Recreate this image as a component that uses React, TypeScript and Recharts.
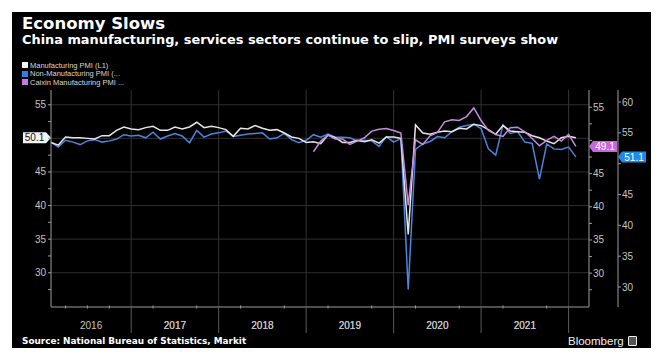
import { Line, LineChart, ReferenceLine, XAxis, YAxis } from 'recharts'

// monthly, Jan 2016 .. Jan 2022
const manufacturingPmi = [
  49.4, 49.0, 50.2, 50.1, 50.1, 50.0, 49.9, 50.4, 50.4, 51.2, 51.7, 51.4,
  51.3, 51.6, 51.8, 51.2, 51.2, 51.7, 51.4, 51.7, 52.4, 51.6, 51.8, 51.6,
  51.3, 50.3, 51.5, 51.4, 51.9, 51.5, 51.2, 51.3, 50.8, 50.2, 50.0, 49.4,
  49.5, 49.2, 50.5, 50.1, 49.4, 49.4, 49.7, 49.5, 49.8, 49.3, 50.2, 50.2,
  50.0, 35.7, 52.0, 50.8, 50.6, 50.9, 51.1, 51.0, 51.5, 51.4, 52.1, 51.9,
  51.3, 50.6, 51.9, 51.1, 51.0, 50.9, 50.4, 50.1, 49.6, 49.2, 50.1, 50.3,
  50.1,
]

const nonManufacturingPmi = [
  53.5, 52.7, 53.8, 53.5, 53.1, 53.7, 53.9, 53.5, 53.7, 54.0, 54.7, 54.5,
  54.6, 54.2, 55.1, 54.0, 54.5, 54.9, 54.5, 53.4, 55.4, 54.3, 54.8, 55.0,
  55.3, 54.4, 54.6, 54.8, 54.9, 55.0, 54.0, 54.2, 54.9, 53.9, 53.4, 53.8,
  54.7, 54.3, 54.8, 54.3, 54.3, 54.2, 53.7, 53.8, 53.7, 52.8, 54.4, 53.5,
  54.1, 29.6, 52.3, 53.2, 53.6, 54.4, 54.2, 55.2, 55.9, 56.2, 56.4, 55.7,
  52.4, 51.4, 56.3, 54.9, 55.2, 53.5, 53.3, 47.5, 53.2, 52.4, 52.3, 52.7,
  51.1,
]

// Caixin series is only drawn from Jan 2019
const caixinStartIndex = 36
const caixinPmi = [
  48.3, 49.9, 50.8, 50.2, 50.2, 49.4, 49.9, 50.4, 51.4, 51.7, 51.8, 51.5,
  51.1, 40.3, 50.1, 49.4, 50.7, 51.2, 52.8, 53.1, 53.0, 53.6, 54.9, 53.0,
  51.5, 50.9, 50.6, 51.9, 52.0, 51.3, 50.3, 49.2, 50.0, 50.6, 49.9, 50.9,
  49.1,
]

const yearLabels = ['2016', '2017', '2018', '2019', '2020', '2021']
const leftTicks = [27.5, 30, 32.5, 35, 37.5, 40, 42.5, 45, 47.5, 50, 52.5, 55]
const caixinTicks = [27.5, 30, 32.5, 35, 37.5, 40, 42.5, 45, 47.5, 50, 52.5, 55]
const nonMfgTicks = [30, 35, 40, 45, 50, 55, 60]

const data = manufacturingPmi.map((mfg, i) => ({
  i,
  mfg,
  nonMfg: nonManufacturingPmi[i],
  caixin: i >= caixinStartIndex ? caixinPmi[i - caixinStartIndex] : null,
}))

const lastIndex = data.length - 1
const yearEnds = yearLabels.map((_, k) => k * 12 + 11)
const yearCenters = yearLabels.map((_, k) => (k === 0 ? 5.5 : k * 12 + 5))
const quarterTicks = data.filter((d) => d.i % 3 === 2).map((d) => d.i)
const xTicks = [...quarterTicks, ...yearCenters]

const tickFont = '"Liberation Sans", Arial, sans-serif'
const axisColor = '#9c9c9c'
const tickColor = '#c4c4c4'

function XTick(props: any) {
  const { x, y, payload } = props
  const v = payload.value
  const yi = yearCenters.indexOf(v)
  if (yi >= 0) {
    return (
      <text x={x} y={y + 22} textAnchor="middle" fill={tickColor} fontSize={10} fontFamily={tickFont}>
        {yearLabels[yi]}
      </text>
    )
  }
  if (yearEnds.includes(v)) {
    return <line x1={x} x2={x} y1={y} y2={y + 26} stroke="#5a5a5a" strokeWidth={1} />
  }
  return <line x1={x} x2={x} y1={y - 1.5} y2={y + 1.5} stroke={axisColor} strokeWidth={1} />
}

function YTick(props: any) {
  const { x, y, payload, textAnchor, hide } = props
  const v = payload.value
  if (v % 5 !== 0 || (hide && hide.includes(v))) return <g />
  return (
    <text x={x} y={y + 3.5} textAnchor={textAnchor} fill={tickColor} fontSize={10} fontFamily={tickFont}>
      {v}
    </text>
  )
}

function ValueTag(props: any) {
  const { viewBox, side, text, fill, color, shift = 0 } = props
  const h = 11
  const cy = viewBox.y
  if (side === 'left') {
    const tip = viewBox.x
    const pts = `${tip - 28},${cy - h / 2} ${tip - 5},${cy - h / 2} ${tip},${cy} ${tip - 5},${cy + h / 2} ${tip - 28},${cy + h / 2}`
    return (
      <g>
        <polygon points={pts} fill={fill} />
        <text x={tip - 16.5} y={cy + 3.6} textAnchor="middle" fill={color} fontSize={10} fontFamily={tickFont}>
          {text}
        </text>
      </g>
    )
  }
  const tip = viewBox.x + viewBox.width + shift
  const pts = `${tip},${cy} ${tip + 4},${cy - h / 2} ${tip + 28},${cy - h / 2} ${tip + 28},${cy + h / 2} ${tip + 4},${cy + h / 2}`
  return (
    <g>
      <polygon points={pts} fill={fill} />
      <text x={tip + 16} y={cy + 3.6} textAnchor="middle" fill={color} fontSize={10} fontFamily={tickFont}>
        {text}
      </text>
    </g>
  )
}

const legendItems = [
  { label: 'Manufacturing PMI (L1)', color: '#f2f2f2' },
  { label: 'Non-Manufacturing PMI (...', color: '#2f7fe0' },
  { label: 'Caixin Manufacturing PMI ...', color: '#c77ae0' },
]

export default function App() {
  return (
    <div style={{ position: 'relative', width: 659, height: 356, margin: -8, background: '#fff', overflow: 'hidden' }}>
      <div
        style={{
          position: 'absolute',
          left: 4,
          top: 4,
          width: 652,
          height: 400,
          border: '2px solid #2f5d9e',
          boxSizing: 'border-box',
        }}
      />
      <div style={{ position: 'absolute', left: 12, top: 12, width: 639, height: 344, background: '#000' }} />

      <div
        style={{
          position: 'absolute',
          left: 22,
          top: 15,
          color: '#fff',
          fontFamily: '"DejaVu Sans", sans-serif',
          fontWeight: 'bold',
          fontSize: 16.5,
          lineHeight: '17px',
          whiteSpace: 'nowrap',
        }}
      >
        Economy Slows
      </div>
      <div
        style={{
          position: 'absolute',
          left: 22,
          top: 33,
          color: '#fff',
          fontFamily: '"DejaVu Sans", sans-serif',
          fontWeight: 'bold',
          fontSize: 12.9,
          lineHeight: '13px',
          whiteSpace: 'nowrap',
        }}
      >
        China manufacturing, services sectors continue to slip, PMI surveys show
      </div>

      <div style={{ position: 'absolute', left: 22, top: 61 }}>
        {legendItems.map((item) => (
          <div
            key={item.label}
            style={{
              display: 'flex',
              alignItems: 'center',
              height: 8.5,
              color: '#d8d8d8',
              fontFamily: tickFont,
              fontSize: 7.5,
              whiteSpace: 'nowrap',
            }}
          >
            <span style={{ display: 'inline-block', width: 6, height: 6, background: item.color, marginRight: 2 }} />
            {item.label}
          </div>
        ))}
      </div>

      <div style={{ position: 'absolute', left: 0, top: 0 }}>
        <LineChart width={659} height={356} data={data} margin={{ top: 90, right: 0, bottom: 29, left: 0 }}>
          <XAxis
            dataKey="i"
            type="number"
            domain={[0, 73.8]}
            ticks={xTicks}
            interval={0}
            height={20}
            stroke={axisColor}
            tickLine={false}
            tickSize={0}
            tickMargin={0}
            tick={<XTick />}
            allowDataOverflow
          />
          <YAxis
            yAxisId="left"
            orientation="left"
            type="number"
            width={51}
            domain={[24.9, 57.2]}
            ticks={leftTicks}
            interval={0}
            allowDataOverflow
            stroke={axisColor}
            tickSize={3}
            tickMargin={2}
            tick={<YTick hide={[50]} />}
          />
          <YAxis
            yAxisId="caixin"
            orientation="right"
            type="number"
            width={29}
            domain={[24.9, 57.6]}
            ticks={caixinTicks}
            interval={0}
            allowDataOverflow
            stroke={axisColor}
            tickSize={3}
            tickMargin={1}
            tick={<YTick hide={[50]} />}
          />
          <YAxis
            yAxisId="nonmfg"
            orientation="right"
            type="number"
            width={41}
            domain={[26.76, 61.95]}
            ticks={nonMfgTicks}
            interval={0}
            allowDataOverflow
            stroke={axisColor}
            tickSize={3}
            tickMargin={1}
            tick={<YTick hide={[50]} />}
          />

          {leftTicks
            .filter((t) => t % 5 === 0)
            .map((t) => (
              <ReferenceLine key={`h${t}`} yAxisId="left" y={t} stroke="#2e2e2e" strokeWidth={1} />
            ))}
          {yearEnds.map((t) => (
            <ReferenceLine key={`v${t}`} yAxisId="left" x={t} stroke="#333" strokeWidth={1} />
          ))}

          <Line
            yAxisId="nonmfg"
            dataKey="nonMfg"
            stroke="#4a86dc"
            strokeWidth={1.5}
            dot={false}
            isAnimationActive={false}
          />
          <Line
            yAxisId="left"
            dataKey="mfg"
            stroke="#e6e6e6"
            strokeWidth={1.5}
            dot={false}
            isAnimationActive={false}
          />
          <Line
            yAxisId="caixin"
            dataKey="caixin"
            stroke="#c58ade"
            strokeWidth={1.5}
            dot={false}
            isAnimationActive={false}
          />

          <ReferenceLine
            yAxisId="left"
            y={manufacturingPmi[lastIndex]}
            stroke="none"
            label={<ValueTag side="left" text={manufacturingPmi[lastIndex].toFixed(1)} fill="#f4f4f4" color="#111" />}
          />
          <ReferenceLine
            yAxisId="caixin"
            y={caixinPmi[caixinPmi.length - 1]}
            stroke="none"
            label={<ValueTag side="right" text={caixinPmi[caixinPmi.length - 1].toFixed(1)} fill="#c468dc" color="#fff" />}
          />
          <ReferenceLine
            yAxisId="nonmfg"
            y={nonManufacturingPmi[lastIndex]}
            stroke="none"
            label={
              <ValueTag side="right" shift={29} text={nonManufacturingPmi[lastIndex].toFixed(1)} fill="#1f8ae8" color="#fff" />
            }
          />
        </LineChart>
      </div>

      <div
        style={{
          position: 'absolute',
          left: 22,
          top: 335,
          color: '#fff',
          fontFamily: '"DejaVu Sans", sans-serif',
          fontWeight: 'bold',
          fontSize: 8.9,
          lineHeight: '12px',
          whiteSpace: 'nowrap',
        }}
      >
        Source: National Bureau of Statistics, Markit
      </div>
      <div
        style={{
          position: 'absolute',
          left: 568,
          top: 334,
          color: '#f0f0f0',
          fontFamily: tickFont,
          fontSize: 11.5,
          lineHeight: '14px',
          whiteSpace: 'nowrap',
          display: 'flex',
          alignItems: 'center',
        }}
      >
        Bloomberg
        <span
          style={{
            display: 'inline-block',
            width: 7,
            height: 8,
            marginLeft: 4,
            border: '1px solid #eee',
            borderRadius: 1,
            background: '#555',
          }}
        />
      </div>
    </div>
  )
}
